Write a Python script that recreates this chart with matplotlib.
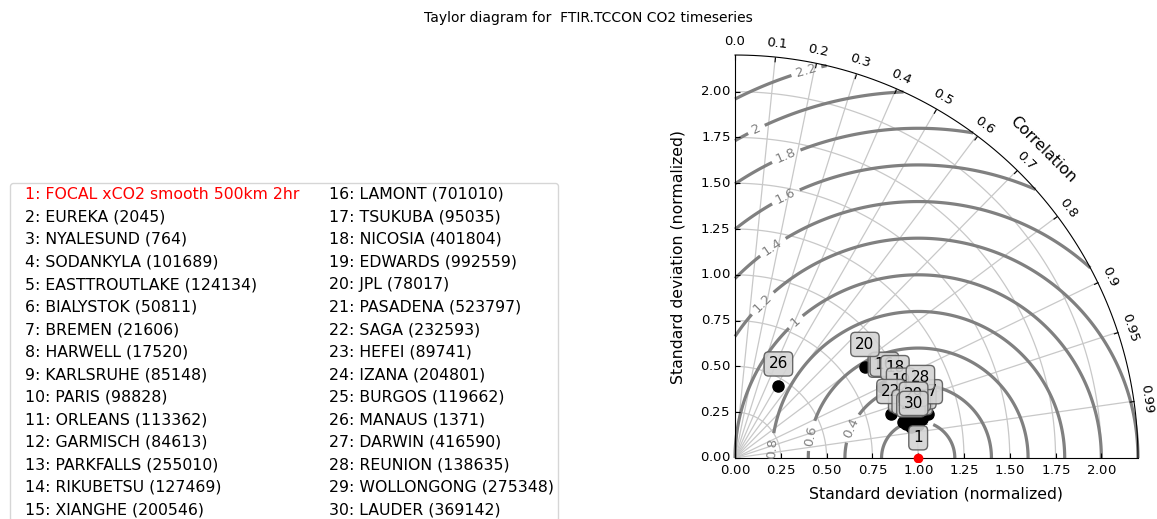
import numpy as np
import matplotlib
matplotlib.use("Agg")
import matplotlib.pyplot as plt
from matplotlib.lines import Line2D
from matplotlib.projections import PolarAxes
import mpl_toolkits.axisartist.floating_axes as FA
import mpl_toolkits.axisartist.grid_finder as GF

# ---------------- data ----------------
title = "Taylor diagram for  FTIR.TCCON CO2 timeseries"
ref_label = "FOCAL xCO2 smooth 500km 2hr"
stations = ["EUREKA", "NYALESUND", "SODANKYLA", "EASTTROUTLAKE", "BIALYSTOK",
            "BREMEN", "HARWELL", "KARLSRUHE", "PARIS", "ORLEANS", "GARMISCH",
            "PARKFALLS", "RIKUBETSU", "XIANGHE", "LAMONT", "TSUKUBA", "NICOSIA",
            "EDWARDS", "JPL", "PASADENA", "SAGA", "HEFEI", "IZANA", "BURGOS",
            "MANAUS", "DARWIN", "REUNION", "WOLLONGONG", "LAUDER"]
counts = [2045, 764, 101689, 124134, 50811, 21606, 17520, 85148, 98828, 113362,
          84613, 255010, 127469, 200546, 701010, 95035, 401804, 992559, 78017,
          523797, 232593, 89741, 204801, 119662, 1371, 416590, 138635, 275348,
          369142]
# normalized standard deviation and correlation of each station (labels 2..30)
std_norm = [0.952, 0.969, 0.983, 0.965, 0.989, 1.007, 0.950, 0.972, 1.016, 0.966,
            1.001, 0.892, 0.972, 0.936, 0.904, 0.991, 0.949, 0.954, 0.867, 1.042,
            0.885, 0.953, 1.010, 0.975, 0.458, 1.082, 1.061, 1.001, 0.991]
corr = [0.977, 0.981, 0.977, 0.974, 0.980, 0.983, 0.974, 0.983, 0.984, 0.978,
        0.979, 0.902, 0.978, 0.978, 0.902, 0.974, 0.920, 0.948, 0.818, 0.979,
        0.962, 0.981, 0.980, 0.985, 0.517, 0.975, 0.954, 0.974, 0.984]
ref_std = 1.0
corr_ticks = [0.0, 0.1, 0.2, 0.3, 0.4, 0.5, 0.6, 0.7, 0.8, 0.9, 0.95, 0.99]
rms_levels = [0.2, 0.4, 0.6, 0.8, 1.0, 1.2, 1.4, 1.6, 1.8, 2.0, 2.2]
smax = 2.2

W, H = 1157, 519
fig = plt.figure(figsize=(W / 100, H / 100), dpi=100)

tr = PolarAxes.PolarTransform(apply_theta_transforms=False)
tlocs = np.arccos(corr_ticks)
gl1 = GF.FixedLocator(tlocs)
tf1 = GF.DictFormatter(dict(zip(tlocs, [str(c) for c in corr_ticks])))
ghelper = FA.GridHelperCurveLinear(tr, extremes=(0, np.pi / 2, 0, smax),
                                   grid_locator1=gl1, tick_formatter1=tf1)
left, bottom = 731 / W, 1 - 462 / H
size_px = 411
ax = fig.add_axes([left, bottom, size_px / W, size_px / H],
                  axes_class=FA.FloatingAxes, grid_helper=ghelper)

lab_fs = 11.3
tick_fs = 9.5
ax.axis["top"].set_axis_direction("bottom")
ax.axis["top"].toggle(ticklabels=True, label=True)
ax.axis["top"].major_ticklabels.set_axis_direction("top")
ax.axis["top"].label.set_axis_direction("top")
ax.axis["top"].label.set_text("Correlation")
ax.axis["top"].label.set_fontsize(lab_fs)

ax.axis["left"].set_axis_direction("bottom")
ax.axis["left"].label.set_text("Standard deviation (normalized)")
ax.axis["left"].label.set_fontsize(lab_fs)
ax.axis["left"].label.set_pad(8)

ax.axis["right"].set_axis_direction("top")
ax.axis["right"].toggle(ticklabels=True, label=True)
ax.axis["right"].major_ticklabels.set_axis_direction("left")
ax.axis["right"].label.set_axis_direction("left")
ax.axis["right"].label.set_text("Standard deviation (normalized)")
ax.axis["right"].label.set_fontsize(lab_fs)
ax.axis["right"].label.set_pad(10)
ax.axis["bottom"].set_visible(False)

for k in ["top", "left", "right"]:
    ax.axis[k].major_ticklabels.set_fontsize(tick_fs)
ax.axis["top"].major_ticklabels.set_pad(7)

ax.grid(True, color="#c8c8c8", linewidth=0.9)

aux = ax.get_aux_axes(tr)

# RMS contours
rs, ts = np.meshgrid(np.linspace(0, smax, 200), np.linspace(0, np.pi / 2, 200))
rms = np.sqrt(ref_std ** 2 + rs ** 2 - 2 * ref_std * rs * np.cos(ts))
cs = aux.contour(ts, rs, rms, levels=rms_levels, colors="0.5", linewidths=2.3)
label_xy = [(1.0, 0.2), (0.620, 0.170), (0.397, 0.125), (0.183, 0.053),
            (0.326, 0.749), (0.139, 0.856), (0.201, 1.159), (0.273, 1.435),
            (0.273, 1.663), (0.112, 1.804), (0.387, 2.121)]
manual = [(np.arctan2(y, x), np.hypot(x, y)) for x, y in label_xy]
aux.clabel(cs, inline=True, fontsize=9.5, fmt="%g", manual=manual)

# reference point
aux.plot([0], [ref_std], "o", color="red", markersize=6, zorder=5)
aux.annotate("1", xy=(0, ref_std), xytext=(0, 14.5), textcoords="offset points",
             ha="center", va="center", fontsize=11, zorder=10,
             bbox=dict(boxstyle="round,pad=0.3", fc="#d4d4d4", ec="0.35", alpha=0.9))

# stations
for s, c in zip(std_norm, corr):
    aux.plot([np.arccos(c)], [s], "o", color="black", markersize=8, zorder=4)
for i, (s, c) in enumerate(zip(std_norm, corr)):
    aux.annotate(str(i + 2), xy=(np.arccos(c), s), xytext=(0, 16),
                 textcoords="offset points", ha="center", va="center",
                 fontsize=11, zorder=10 + i,
                 bbox=dict(boxstyle="round,pad=0.3", fc="#d4d4d4", ec="0.35", alpha=0.9))

fig.text(588 / W, 1 - 18 / H, title, ha="center", va="center", fontsize=10)

labels = ["1: " + ref_label] + [f"{i + 2}: {n} ({c})" for i, (n, c) in enumerate(zip(stations, counts))]
handles = [Line2D([], [], linestyle="none") for _ in labels]
leg = fig.legend(handles, labels, ncol=2, loc="upper left",
                 bbox_to_anchor=(10 / W, 1 - 183 / H), fontsize=11.3,
                 handlelength=0, handletextpad=0.71, labelspacing=0.48,
                 borderpad=0.25, columnspacing=1.2, borderaxespad=0)
leg.get_texts()[0].set_color("red")

fig.savefig("out.png", dpi=100)
